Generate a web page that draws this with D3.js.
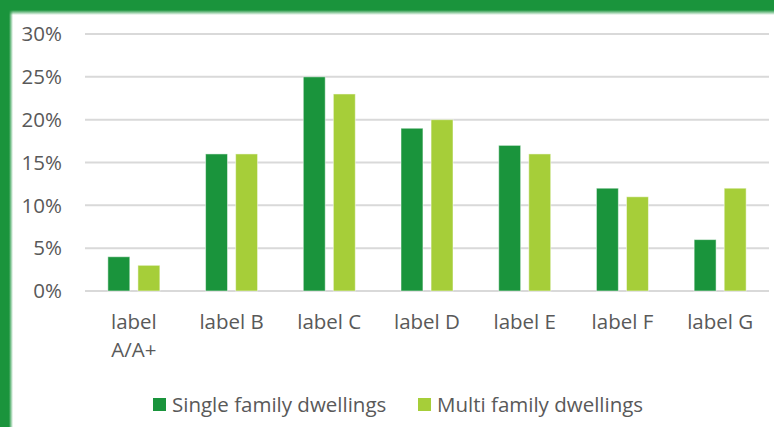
<!DOCTYPE html>
<html><head><meta charset="utf-8">
<script src="https://cdn.jsdelivr.net/npm/d3@7"></script>
<style>body{margin:0;background:#fff}svg{display:block}</style>
</head><body>
<script>
const categories = ["label A/A+", "label B", "label C", "label D", "label E", "label F", "label G"];
const seriesNames = ["Single family dwellings", "Multi family dwellings"];
const singleFamily = [4, 16, 25, 19, 17, 12, 6];
const multiFamily = [3, 16, 23, 20, 16, 11, 12];
const yTicks = [0, 5, 10, 15, 20, 25, 30];
const colors = ["#1a943c", "#a6ce39"];

(function(){
const W = 774, H = 427;
const svg = d3.select("body").append("svg").attr("width", W).attr("height", H);
const defs = svg.append("defs");
const gT = defs.append("linearGradient").attr("id","gT").attr("x1",0).attr("x2",0).attr("y1",0).attr("y2",1);
gT.append("stop").attr("offset","0%").attr("stop-color","#1a943c").attr("stop-opacity",1);
gT.append("stop").attr("offset","100%").attr("stop-color","#1a943c").attr("stop-opacity",0);
const gL = defs.append("linearGradient").attr("id","gL").attr("x1",0).attr("x2",1).attr("y1",0).attr("y2",0);
gL.append("stop").attr("offset","0%").attr("stop-color","#1a943c").attr("stop-opacity",1);
gL.append("stop").attr("offset","100%").attr("stop-color","#1a943c").attr("stop-opacity",0);

svg.append("rect").attr("x",0).attr("y",0).attr("width",W).attr("height",10).attr("fill","#1a943c");
svg.append("rect").attr("x",0).attr("y",10).attr("width",W).attr("height",5).attr("fill","url(#gT)");
svg.append("rect").attr("x",0).attr("y",0).attr("width",9).attr("height",H).attr("fill","#1a943c");
svg.append("rect").attr("x",9).attr("y",10).attr("width",4).attr("height",H-10).attr("fill","url(#gL)");

const pLeft = 85, pRight = 769, pTop = 34, pBottom = 291;
const y = d3.scaleLinear().domain([0, 30]).range([pBottom, pTop]);
const x0 = d3.scaleBand().domain(categories).range([pLeft, pRight]).padding(0);
const x1 = d3.scaleBand().domain(seriesNames)
  .range([x0.bandwidth()/2 - 26, x0.bandwidth()/2 + 26]).paddingInner(0.27).paddingOuter(0);

const font = "'Open Sans', 'Liberation Sans', sans-serif";
const textColor = "#595959";
const fs = 20.5;

svg.append("g").selectAll("line").data(yTicks).join("line")
  .attr("x1", pLeft).attr("x2", pRight)
  .attr("y1", d => y(d)).attr("y2", d => y(d))
  .attr("stroke", "#d9d9d9").attr("stroke-width", 2);

svg.append("g").selectAll("text").data(yTicks).join("text")
  .attr("x", 62).attr("y", d => y(d)).attr("dy", "0.35em")
  .attr("text-anchor", "end").attr("font-family", font).attr("font-size", fs)
  .attr("fill", textColor).text(d => d + "%");

const data = categories.map((c, i) => ({cat: c, vals: [singleFamily[i], multiFamily[i]]}));
const groups = svg.append("g").selectAll("g").data(data).join("g")
  .attr("transform", d => `translate(${x0(d.cat)},0)`);
groups.selectAll("rect").data(d => d.vals.map((v, j) => ({s: seriesNames[j], v, j})))
  .join("rect")
  .attr("x", d => x1(d.s)).attr("width", x1.bandwidth())
  .attr("y", d => y(d.v)).attr("height", d => y(0) - y(d.v))
  .attr("fill", d => colors[d.j])
  .attr("stroke", "#ffffff").attr("stroke-opacity", 0.5).attr("stroke-width", 1);

const xl = svg.append("g").selectAll("text").data(categories).join("text")
  .attr("x", d => x0(d) + x0.bandwidth()/2).attr("y", 322)
  .attr("text-anchor", "middle").attr("font-family", font).attr("font-size", fs)
  .attr("fill", textColor);
xl.each(function(d) {
  const t = d3.select(this);
  const words = d.split(" ");
  let lines = [], cur = [];
  const tmp = t.append("tspan");
  words.forEach(w => {
    const test = cur.concat([w]).join(" ");
    tmp.text(test);
    if (tmp.node().getComputedTextLength() > 85 && cur.length) { lines.push(cur.join(" ")); cur = [w]; }
    else cur.push(w);
  });
  lines.push(cur.join(" "));
  tmp.remove();
  lines.forEach((l, i) => t.append("tspan").attr("x", x0(d) + x0.bandwidth()/2).attr("dy", i === 0 ? "0.35em" : 28).text(l));
});

const legendX = [153, 418];
const lg = svg.append("g").selectAll("g").data(seriesNames).join("g")
  .attr("transform", (d, i) => `translate(${legendX[i]},398)`);
lg.append("rect").attr("width", 13).attr("height", 13).attr("fill", (d, i) => colors[i]);
lg.append("text").attr("x", 19).attr("y", 6.5).attr("dy", "0.35em")
  .attr("font-family", font).attr("font-size", fs).attr("fill", textColor).text(d => d);
})();
</script>
</body></html>
